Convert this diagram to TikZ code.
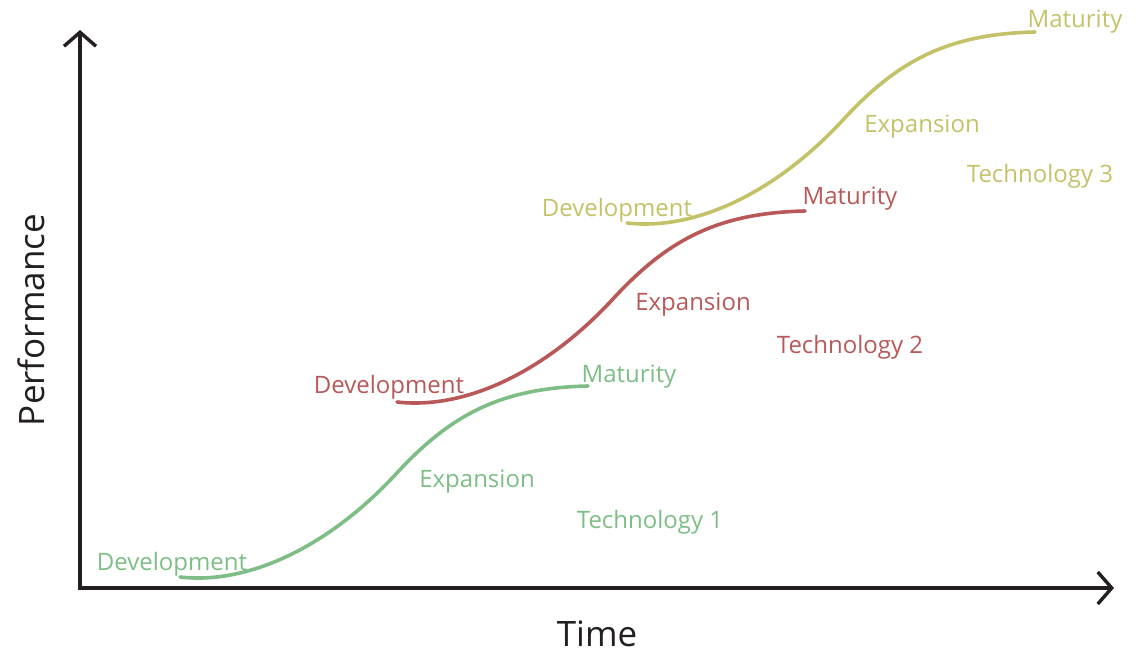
\documentclass[tikz,border=0pt]{standalone}
\usepackage{fontspec}
\setmainfont{Open Sans}
\usetikzlibrary{arrows.meta}
\definecolor{cgreen}{RGB}{126,190,134}
\definecolor{cred}{RGB}{184,88,88}
\definecolor{cyellow}{RGB}{196,194,104}
\definecolor{caxis}{RGB}{35,31,32}
\tikzset{
  axisline/.style={line width=3.4pt, draw=caxis, -{Straight Barb[length=14pt,width=32pt,line width=3.4pt]}},
  scurve/.style={line width=3.6pt, line cap=round},
  lbl/.style={font=\fontsize{24}{28}\selectfont, inner sep=0pt, yshift=-2pt},
  axlbl/.style={font=\fontsize{35}{40}\selectfont, inner sep=0pt, text=caxis},
  pics/scurve/.style={code={
    \draw[scurve, #1] (0,0) .. controls (70,8) and (150,-32) .. (215,-102)
       .. controls (270,-162) and (320,-189) .. (408,-191);
  }}
}
\begin{document}
\begin{tikzpicture}[x=1pt,y=-1pt]
\useasboundingbox (0,0) rectangle (1139,655);
\coordinate (O) at (80,588);
\coordinate (Ytop) at (80,30);
\coordinate (Xend) at (1114,588);
\draw[axisline] (O) -- (Ytop);
\draw[axisline] ([xshift=-1.7pt]O) -- (Xend);
\node[axlbl, rotate=90] (perf) at (31,320) {Performance};
\node[axlbl, anchor=base] (time) at (597,646) {Time};

% Technology 1
\pic at (180,577) {scurve=cgreen};
\node[lbl, text=cgreen] (d1) at (172,562) {Development};
\node[lbl, text=cgreen] (e1) at (477,480) {Expansion};
\node[lbl, text=cgreen] (m1) at (629,375) {Maturity};
\node[lbl, text=cgreen] (t1) at (650,520) {Technology 1};

% Technology 2
\pic at (397,402) {scurve=cred};
\node[lbl, text=cred] (d2) at (389,385) {Development};
\node[lbl, text=cred] (e2) at (693,303) {Expansion};
\node[lbl, text=cred] (m2) at (850,197) {Maturity};
\node[lbl, text=cred] (t2) at (850,345) {Technology 2};

% Technology 3
\pic at (627,223) {scurve=cyellow};
\node[lbl, text=cyellow] (d3) at (617,208) {Development};
\node[lbl, text=cyellow] (e3) at (922,125) {Expansion};
\node[lbl, text=cyellow] (m3) at (1075,20) {Maturity};
\node[lbl, text=cyellow] (t3) at (1040,174) {Technology 3};
\end{tikzpicture}
\end{document}
